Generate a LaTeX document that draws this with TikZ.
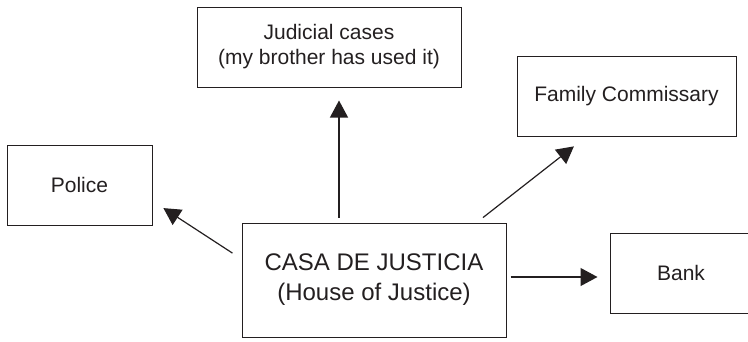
\documentclass[tikz,border=0pt]{standalone}
\usepackage{fontspec}
\setmainfont{Liberation Sans}
\usetikzlibrary{arrows.meta}
\definecolor{ink}{RGB}{35,31,32}

\begin{document}
\begin{tikzpicture}[x=1pt, y=-1pt,
    box/.style={draw=ink, line width=1pt, inner sep=0pt, align=center, text=ink,
                font=\fontsize{21}{25}\selectfont, minimum height=80pt},
    arr/.style={draw=ink, line width=1.2pt, -{Triangle[length=17pt, width=18pt]}}]
    %% keep the page the same size as the reference
    \useasboundingbox (0,0) rectangle (748,341);
    %% the boxes, placed at pixel coordinates (y runs downward)
    \node[box, minimum width=264pt] (judicial) at (329,47) {Judicial cases\\(my brother has used it)};
    \node[box, minimum width=219pt] (family) at (626.5,96) {Family Commissary};
    \node[box, minimum width=145pt] (police) at (79.5,185) {Police};
    %% the Bank box runs off the right edge, as in the reference
    \node[box, minimum width=142pt] (bank) at (681,273) {Bank};
    \node[box, minimum width=264pt, minimum height=114pt, font=\fontsize{24}{30}\selectfont] (casa) at (374,280) {CASA DE JUSTICIA\\(House of Justice)};
    %% arrows going out of the Casa de Justicia
    \draw[arr, shorten <=5pt, shorten >=13pt] ([xshift=-35pt]casa.north) -- ([xshift=10pt]judicial.south);
    \draw[arr, shorten <=10.8pt, shorten >=13pt] ([yshift=21pt]casa.west) -- ([yshift=-16pt]police.east);
    \draw[arr, shorten <=8pt, shorten >=16pt] ([xshift=102.7pt]casa.north) -- ([xshift=-40pt]family.south);
    \draw[arr, shorten <=4pt, shorten >=12pt] ([yshift=3pt]casa.east) -- ([yshift=-4pt]bank.west);
\end{tikzpicture}
\end{document}
